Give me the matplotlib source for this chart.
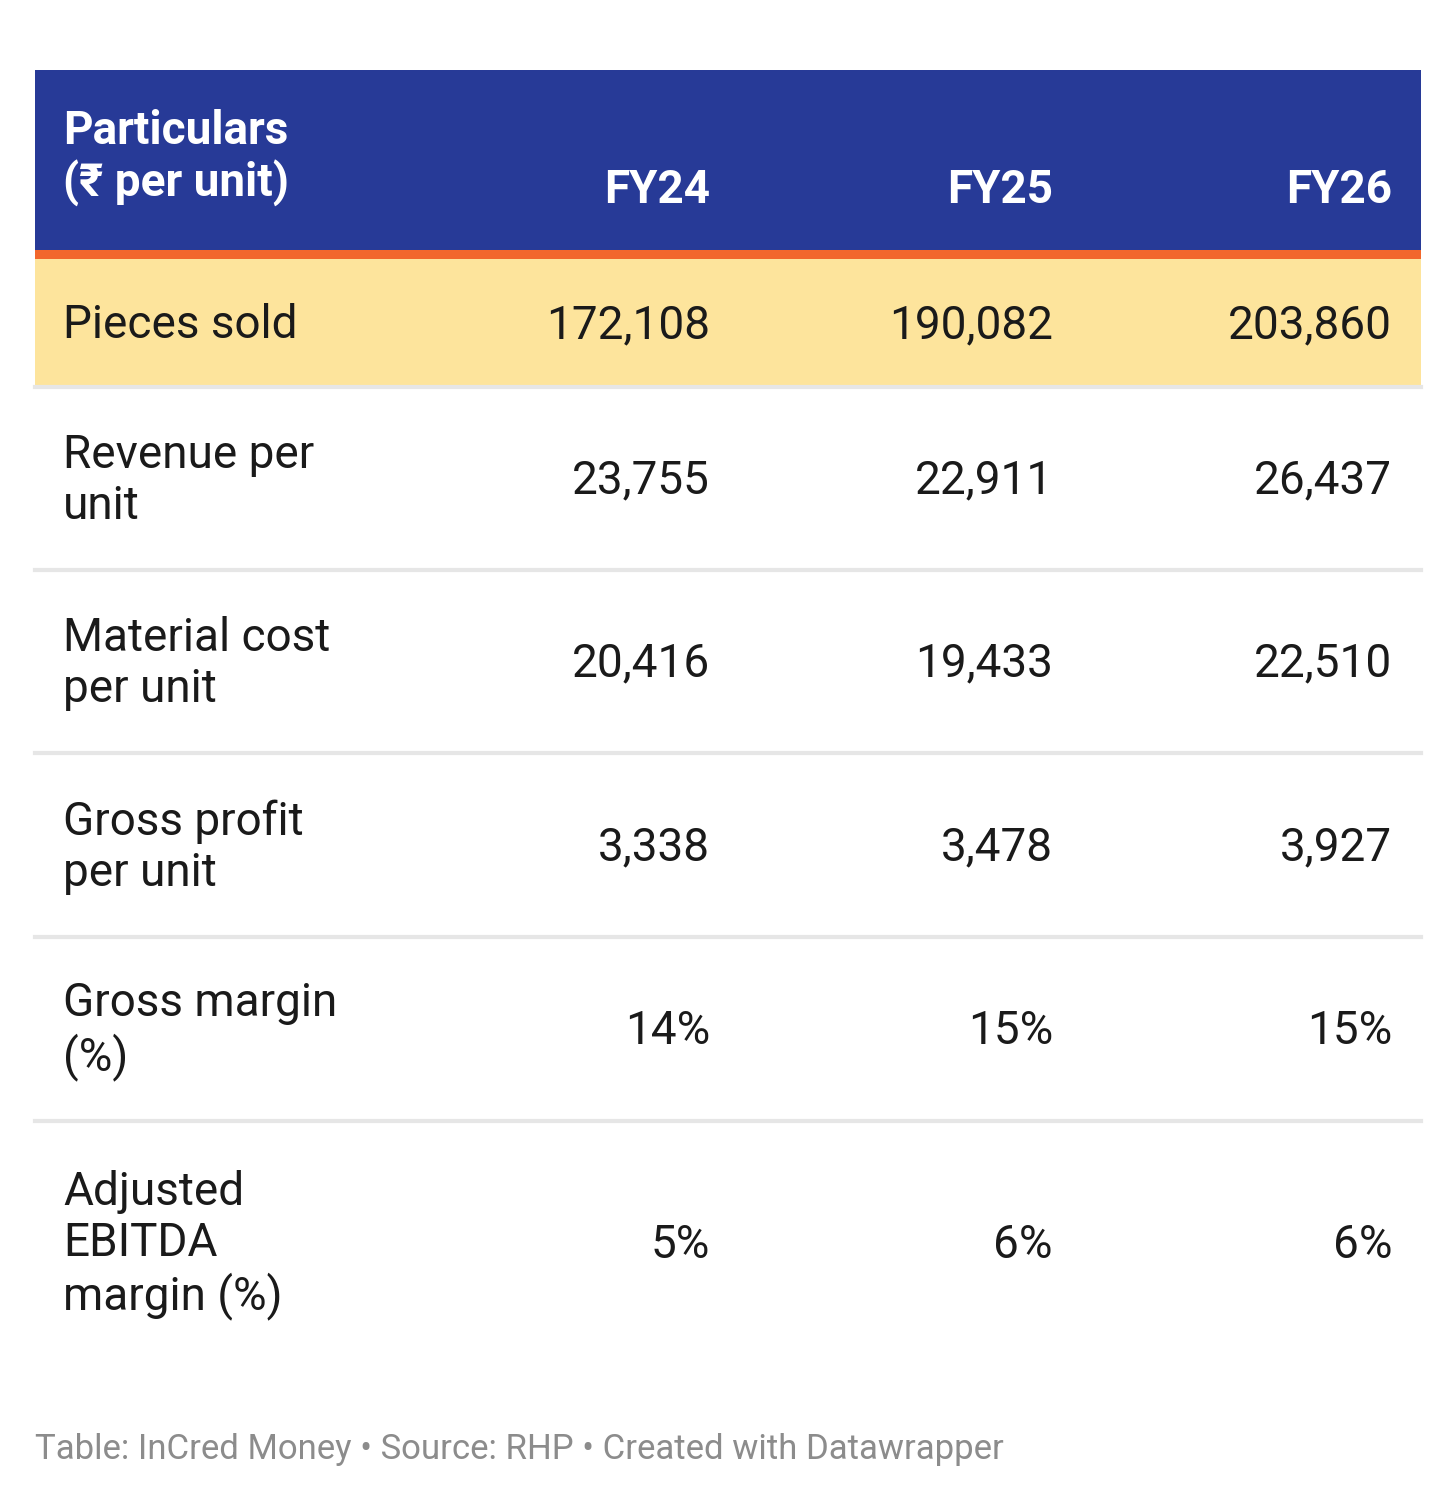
import matplotlib
matplotlib.use("Agg")
import matplotlib.pyplot as plt
from matplotlib.patches import Rectangle

plt.rcParams['font.family'] = ['Roboto', 'DejaVu Sans']

years = ["FY24", "FY25", "FY26"]
labels = ["Pieces sold", "Revenue per\nunit", "Material cost\nper unit",
          "Gross profit\nper unit", "Gross margin\n(%)", "Adjusted\nEBITDA\nmargin (%)"]
values = [
    ["172,108", "190,082", "203,860"],
    ["23,755", "22,911", "26,437"],
    ["20,416", "19,433", "22,510"],
    ["3,338", "3,478", "3,927"],
    ["14%", "15%", "15%"],
    ["5%", "6%", "6%"],
]

W, H = 1456, 1508
fig = plt.figure(figsize=(W / 100, H / 100), dpi=100)
ax = fig.add_axes([0, 0, 1, 1])
ax.set_xlim(0, W)
ax.set_ylim(H, 0)
ax.axis("off")

left, right = 35, 1421
col_x = [710, 1053, 1392]
fs = 33

# header
ax.add_patch(Rectangle((left, 70), right - left, 180, color="#273A97", lw=0))
ax.add_patch(Rectangle((left, 250), right - left, 9, color="#F2672C", lw=0))
ax.text(63, 158, "Particulars\n(₹ per unit)", color="white", fontsize=fs,
        fontweight="bold", va="center", ha="left", linespacing=1.2)
for x, y in zip(col_x, years):
    ax.text(x, 190, y, color="white", fontsize=fs, fontweight="bold", va="center", ha="right")

# rows
bounds = [259, 387, 570, 753, 937, 1121, 1365]
for i, (lab, vals) in enumerate(zip(labels, values)):
    top, bot = bounds[i], bounds[i + 1]
    if i == 0:
        ax.add_patch(Rectangle((left, top), right - left, bot - top - 2, color="#FDE49C", lw=0))
    if i < len(labels) - 1:
        ax.plot([left, right], [bot, bot], color="#E6E6E6", lw=3)
    cy = (top + bot) / 2 + 2
    ax.text(63, cy, lab, fontsize=fs, color="#1a1a1a", va="center", ha="left", linespacing=1.2)
    for x, v in zip(col_x, vals):
        ax.text(x, cy, v, fontsize=fs, color="#1a1a1a", va="center", ha="right")

ax.text(35, 1450, "Table: InCred Money • Source: RHP • Created with Datawrapper",
        fontsize=25, color="#8C8C8C", va="center", ha="left")

fig.savefig("out.png", dpi=100, facecolor="white")
